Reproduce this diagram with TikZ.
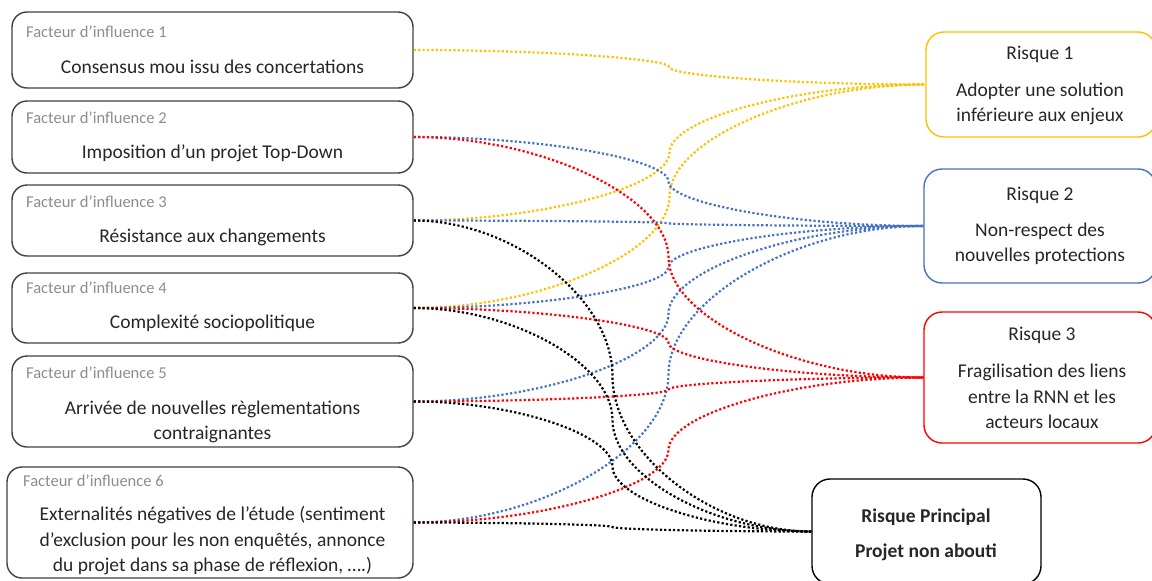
\documentclass[tikz,border=0pt]{standalone}
\usepackage{fontspec}
\setmainfont{Carlito}
\usetikzlibrary{calc}

\definecolor{gold}{HTML}{FFC000}
\definecolor{oblue}{HTML}{4472C4}
\definecolor{ored}{HTML}{FF0000}
\definecolor{edgegray}{HTML}{404040}
\definecolor{labgray}{HTML}{8C8C8C}
\definecolor{ink}{HTML}{262626}

\tikzset{
  factorbox/.style={draw=edgegray, line width=1.4pt, rounded corners=15pt,
    minimum width=401pt, inner sep=0pt},
  riskbox/.style={line width=1.4pt, rounded corners=18pt, inner sep=0pt},
  lab/.style={text=labgray, font=\fontsize{16.5}{20}\selectfont, inner sep=0pt, anchor=west},
  txt/.style={text=ink, font=\fontsize{19.5}{25.5}\selectfont, inner sep=0pt, align=center},
  btxt/.style={text=ink, font=\fontsize{19.5}{25.5}\selectfont\bfseries, inner sep=0pt, align=center},
  link/.style={line width=2.2pt, dash pattern=on 2.2pt off 2.2pt},
}

% Office-style curved connector: horizontal at both ends, vertical tangent midway
\newcommand{\curvelink}[3]{%
  \draw[link,#1] let \p1=(#2), \p2=(#3) in
    (\p1) .. controls ({0.75*\x1+0.25*\x2},\y1) and ({0.5*\x1+0.5*\x2},{0.75*\y1+0.25*\y2})
    .. ({0.5*\x1+0.5*\x2},{0.5*\y1+0.5*\y2})
    .. controls ({0.5*\x1+0.5*\x2},{0.25*\y1+0.75*\y2}) and ({0.25*\x1+0.75*\x2},\y2)
    .. (\p2);}

\begin{document}
\begin{tikzpicture}[x=1pt,y=-1pt]
\useasboundingbox (0,0) rectangle (1152,581);

% factor boxes
\node[factorbox, minimum height=76pt] (f1) at (212.5,50) {};
\node[factorbox, minimum height=72pt] (f2) at (212.5,137) {};
\node[factorbox, minimum height=71pt] (f3) at (212.5,220.5) {};
\node[factorbox, minimum height=70pt] (f4) at (212.5,308) {};
\node[factorbox, minimum height=91pt] (f5) at (212.5,401.5) {};
\node[factorbox, minimum height=111pt, minimum width=406pt] (f6) at (210,522.5) {};

\node[lab] (f1l) at (26,32) {Facteur d’influence 1};
\node[lab] (f2l) at (26,118) {Facteur d’influence 2};
\node[lab] (f3l) at (26,201.5) {Facteur d’influence 3};
\node[lab] (f4l) at (26,288) {Facteur d’influence 4};
\node[lab] (f5l) at (26,373) {Facteur d’influence 5};
\node[lab] (f6l) at (23,481) {Facteur d’influence 6};

\node[txt] (f1t) at (212.5,67) {Consensus mou issu des concertations};
\node[txt] (f2t) at (212.5,153) {Imposition d’un projet Top-Down};
\node[txt] (f3t) at (212.5,237) {Résistance aux changements};
\node[txt] (f4t) at (212.5,323) {Complexité sociopolitique};
\node[txt] (f5t) at (212.5,422) {Arrivée de nouvelles règlementations\\contraignantes};
\node[txt] (f6t) at (212.5,541) {Externalités négatives de l’étude (sentiment\\d’exclusion pour les non enquêtés, annonce\\du projet dans sa phase de réflexion, ….)};

% risk boxes
\node[riskbox, draw=gold, minimum width=230pt, minimum height=105pt] (r1) at (1041,84.5) {};
\node[riskbox, draw=oblue, minimum width=232pt, minimum height=114pt] (r2) at (1040,226) {};
\node[riskbox, draw=ored, minimum width=232pt, minimum height=131pt] (r3) at (1040,377.5) {};
\node[riskbox, draw=black, minimum width=229pt, minimum height=105pt] (rp) at (926.5,531.5) {};

\node[txt] (r1h) at (1040,54) {Risque 1};
\node[txt] (r1t) at (1040,104) {Adopter une solution\\inférieure aux enjeux};
\node[txt] (r2h) at (1040,195) {Risque 2};
\node[txt] (r2t) at (1040,244) {Non-respect des\\nouvelles protections};
\node[txt] (r3h) at (1042,335) {Risque 3};
\node[txt] (r3t) at (1042,396.5) {Fragilisation des liens\\entre la RNN et les\\acteurs locaux};
\node[btxt] (rph) at (926,517) {Risque Principal};
\node[btxt] (rpt) at (926,552) {Projet non abouti};

% influence links
\curvelink{gold}{f1.east}{r1.west}
\curvelink{gold}{f3.east}{r1.west}
\curvelink{gold}{f4.east}{r1.west}

\curvelink{oblue}{f2.east}{r2.west}
\curvelink{oblue}{f3.east}{r2.west}
\curvelink{oblue}{f4.east}{r2.west}
\curvelink{oblue}{f5.east}{r2.west}
\curvelink{oblue}{f6.east}{r2.west}

\curvelink{ored}{f2.east}{r3.west}
\curvelink{ored}{f4.east}{r3.west}
\curvelink{ored}{f5.east}{r3.west}
\curvelink{ored}{f6.east}{r3.west}

\curvelink{black}{f3.east}{rp.west}
\curvelink{black}{f4.east}{rp.west}
\curvelink{black}{f5.east}{rp.west}
\curvelink{black}{f6.east}{rp.west}
\end{tikzpicture}
\end{document}
